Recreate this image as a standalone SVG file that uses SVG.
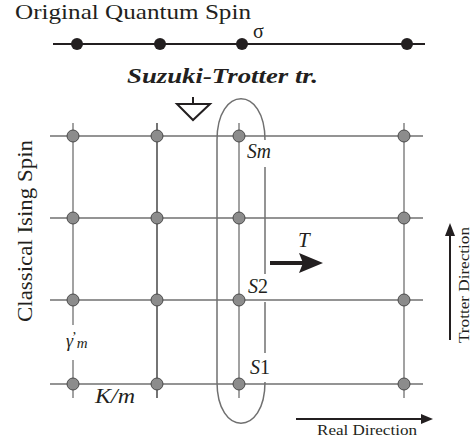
<svg xmlns="http://www.w3.org/2000/svg" width="472" height="445" viewBox="0 0 472 445">
<style>
.t{font-family:"Liberation Serif","Times New Roman",serif;fill:#231f20}
.i{font-style:italic}
.g{stroke:#707070;stroke-width:1.3;fill:none}
.gd{stroke:#2a2a2a;stroke-width:1.3;fill:none}
.n{fill:#8c8c8c;stroke:#4a4a4a;stroke-width:1}
.q{fill:#231f20}
.ell{stroke:#707070;stroke-width:1.5;fill:none}
</style>
<rect width="472" height="445" fill="#ffffff"/>
<text class="t" x="15" y="19" font-size="22" textLength="236" lengthAdjust="spacingAndGlyphs">Original Quantum Spin</text>
<g id="connectors">
  <line x1="53" y1="44" x2="425" y2="44" stroke="#231f20" stroke-width="2"/>
  <line class="g" x1="50" y1="136" x2="423" y2="136"/>
  <line class="g" x1="50" y1="218" x2="423" y2="218"/>
  <line class="g" x1="50" y1="300" x2="423" y2="300"/>
  <line class="g" x1="50" y1="384" x2="423" y2="384"/>
  <line class="g" x1="73" y1="123" x2="73" y2="325"/>
  <line class="g" x1="73" y1="360" x2="73" y2="398"/>
  <line class="gd" x1="157" y1="123" x2="157" y2="398"/>
  <line class="g" x1="239" y1="123" x2="239" y2="398"/>
  <line class="g" x1="404" y1="123" x2="404" y2="398"/>
</g>
<g id="spin1"><circle class="q" cx="77" cy="44" r="6"/></g>
<g id="spin2"><circle class="q" cx="160" cy="44" r="6"/></g>
<g id="spin3"><circle class="q" cx="242" cy="44" r="6"/><text class="t" x="253" y="38" font-size="20">σ</text></g>
<g id="spin4"><circle class="q" cx="407" cy="44" r="6"/></g>
<g id="suzuki"><text class="t i" x="127" y="83" font-size="22" font-weight="bold" textLength="191" lengthAdjust="spacingAndGlyphs">Suzuki-Trotter tr.</text></g>
<g id="triangle">
  <line x1="193" y1="97" x2="193" y2="104" stroke="#231f20" stroke-width="2"/>
  <polygon points="177,104 210,104 193,120" fill="#ffffff" stroke="#231f20" stroke-width="2"/>
</g>
<g id="trotter-ring">
  <path class="ell" d="M217,382 L217,140 C217,85 265,85 265,140"/>
  <path class="ell" d="M265,167 L265,274"/>
  <path class="ell" d="M265,302 L265,353"/>
  <path class="ell" d="M265,382 C265,437 217,437 217,382"/>
</g>
<g id="grid-nodes">
  <circle class="n" cx="73" cy="136" r="6"/><circle class="n" cx="157" cy="136" r="6"/><circle class="n" cx="239" cy="136" r="6"/><circle class="n" cx="404" cy="136" r="6"/>
  <circle class="n" cx="73" cy="218" r="6"/><circle class="n" cx="157" cy="218" r="6"/><circle class="n" cx="239" cy="218" r="6"/><circle class="n" cx="404" cy="218" r="6"/>
  <circle class="n" cx="73" cy="300" r="6"/><circle class="n" cx="157" cy="300" r="6"/><circle class="n" cx="239" cy="300" r="6"/><circle class="n" cx="404" cy="300" r="6"/>
  <circle class="n" cx="73" cy="384" r="6"/><circle class="n" cx="157" cy="384" r="6"/><circle class="n" cx="239" cy="384" r="6"/><circle class="n" cx="404" cy="384" r="6"/>
</g>
<g id="label-sm"><text class="t i" x="247" y="158" font-size="20" textLength="24" lengthAdjust="spacingAndGlyphs">Sm</text></g>
<g id="label-s2"><text class="t" x="248" y="293" font-size="20"><tspan class="i">S</tspan>2</text></g>
<g id="label-s1"><text class="t" x="250" y="374" font-size="20"><tspan class="i">S</tspan>1</text></g>
<g id="label-gamma"><text class="t i" x="66" y="347" font-size="18">γ<tspan font-style="normal" font-size="14" dy="-5" dx="-1">’</tspan><tspan font-size="15" dy="6">m</tspan></text></g>
<g id="label-km"><text class="t i" x="95" y="403" font-size="20" textLength="40" lengthAdjust="spacingAndGlyphs">K/m</text></g>
<g id="arrow-t">
  <line x1="270" y1="263" x2="303" y2="263" stroke="#231f20" stroke-width="4"/>
  <polygon points="299,253 323,263 299,273 303,263" fill="#231f20"/>
  <text class="t i" x="298" y="247" font-size="21">T</text>
</g>
<g id="classical"><text class="t" transform="translate(32,231) rotate(-90)" text-anchor="middle" font-size="22" textLength="182" lengthAdjust="spacingAndGlyphs">Classical Ising Spin</text></g>
<g id="trotter-dir">
  <line x1="450" y1="340" x2="450" y2="233" stroke="#231f20" stroke-width="2"/>
  <polygon points="445,236 450,223 455,236" fill="#231f20"/>
  <text class="t" transform="translate(469,285) rotate(-90)" text-anchor="middle" font-size="14" textLength="116" lengthAdjust="spacingAndGlyphs">Trotter Direction</text>
</g>
<g id="real-dir">
  <line x1="296" y1="419" x2="424" y2="419" stroke="#231f20" stroke-width="2"/>
  <polygon points="421,414 433,419 421,424" fill="#231f20"/>
  <text class="t" x="317" y="435" font-size="15" textLength="100" lengthAdjust="spacingAndGlyphs">Real Direction</text>
</g>
</svg>
